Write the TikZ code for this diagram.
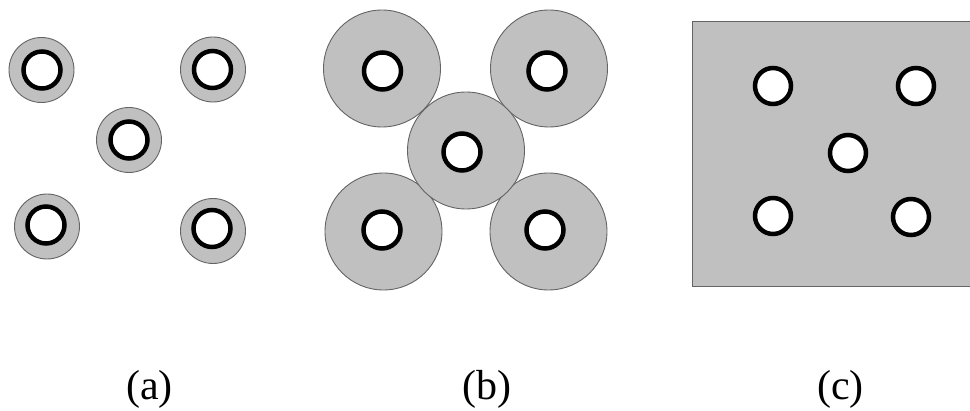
\documentclass[tikz,border=0pt]{standalone}
\usepackage{fontspec}
\setmainfont{Liberation Serif}
\definecolor{shade}{RGB}{192,192,192}
\definecolor{rim}{RGB}{100,100,100}
\begin{document}
\begin{tikzpicture}[x=1pt,y=-1pt,
  halo/.style={circle,draw=rim,line width=0.9pt,fill=shade,inner sep=0pt,minimum size=#1},
  ring/.style={circle,draw=black,line width=4.5pt,fill=white,inner sep=0pt,minimum size=37pt},
  hole/.style={circle,draw=black,line width=4.5pt,fill=white,inner sep=0pt,minimum size=36pt},
  caption/.style={anchor=base,inner sep=0pt,font=\fontsize{42}{48}\selectfont}]
\useasboundingbox (0,0) rectangle (970,411);

% (a) small shells around each fibre
\node[halo=65pt] (a1) at (41.5,70) {};
\node[halo=65pt] (a2) at (213,69.5) {};
\node[halo=65pt] (a3) at (129,140) {};
\node[halo=65pt] (a4) at (47,226.5) {};
\node[halo=65pt] (a5) at (213,231) {};
\node[ring] (ra1) at (42,70) {};
\node[ring] (ra2) at (212.5,69.5) {};
\node[ring] (ra3) at (129,140) {};
\node[ring] (ra4) at (46,225) {};
\node[ring] (ra5) at (212,228.5) {};

% (b) large shells just touching
\node[halo=117pt] (b1) at (382,68.5) {};
\node[halo=117pt] (b2) at (549,68.5) {};
\node[halo=117pt] (b4) at (383.5,231.5) {};
\node[halo=117pt] (b5) at (548.5,231.5) {};
\node[halo=117pt] (b3) at (466,150.5) {};
\node[ring] (rb1) at (382.5,71) {};
\node[ring] (rb2) at (547,71) {};
\node[ring] (rb3) at (462,152) {};
\node[ring] (rb4) at (382,230) {};
\node[ring] (rb5) at (545,230) {};

% (c) continuous matrix
\node[draw=rim,line width=0.9pt,fill=shade,inner sep=0pt,anchor=north west,
      minimum width=280pt,minimum height=265pt] (mat) at (692,21) {};
\node[hole] (c1) at (773,86) {};
\node[hole] (c2) at (916,86) {};
\node[hole] (c3) at (848,153) {};
\node[hole] (c4) at (773,216) {};
\node[hole] (c5) at (911,217) {};

% captions
\node[caption] (la) at (149.5,400) {(a)};
\node[caption] (lb) at (487,400) {(b)};
\node[caption] (lc) at (840.5,400) {(c)};
\end{tikzpicture}
\end{document}
